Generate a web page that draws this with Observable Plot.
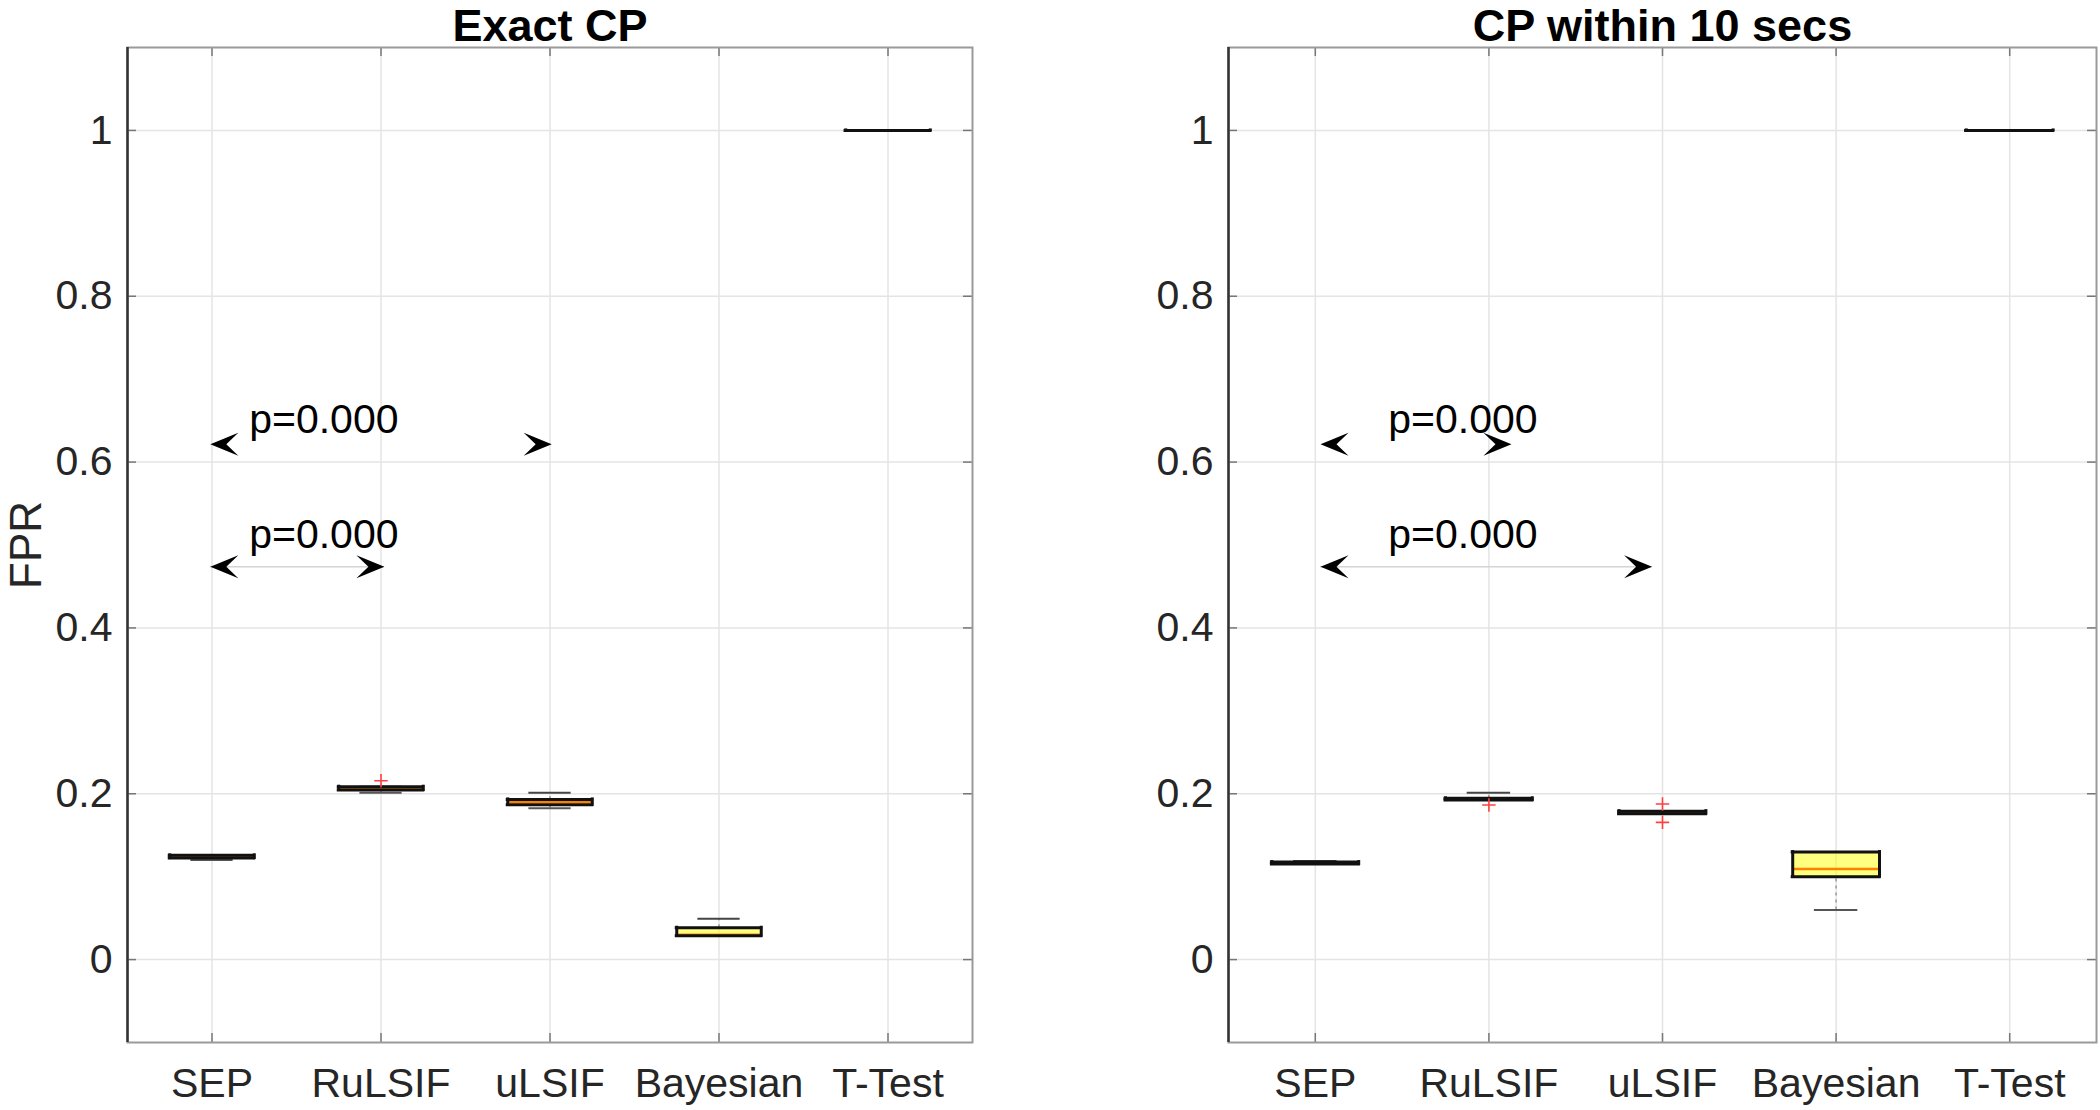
<!DOCTYPE html>
<html>
<head>
<meta charset="utf-8">
<script src="https://cdn.jsdelivr.net/npm/d3@7"></script>
<script src="https://cdn.jsdelivr.net/npm/@observablehq/plot@0.6"></script>
<style>
  html, body { margin: 0; padding: 0; background: #fff; }
  #wrap { position: relative; width: 2100px; height: 1110px; overflow: hidden; background: #fff; }
  #left, #right { position: absolute; top: 0; }
  #left { left: 0; }
  #right { left: 1100px; }
</style>
</head>
<body>
<div id="wrap"><div id="left"></div><div id="right"></div></div>
<script>
// ---------- data ----------
const methods = ["SEP", "RuLSIF", "uLSIF", "Bayesian", "T-Test"];
const yTicks = [0, 0.2, 0.4, 0.6, 0.8, 1];
const yTickLabels = ["0", "0.2", "0.4", "0.6", "0.8", "1"];
const titles = ["Exact CP", "CP within 10 secs"];
const yLabel = "FPR";

// Exact CP box statistics
const exactLo  = [0.1200, 0.2012, 0.1824, 0.0287, 1];
const exactQ1  = [0.1224, 0.2045, 0.1867, 0.0287, 1];
const exactMed = [0.1240, 0.2065, 0.1900, 0.0300, 1];
const exactQ3  = [0.1257, 0.2085, 0.1932, 0.0384, 1];
const exactHi  = [0.1257, 0.2085, 0.2012, 0.0492, 1];
const exactOutlierMethod = ["RuLSIF"];
const exactOutlierValue  = [0.2157];

// CP within 10 secs box statistics
const withinLo  = [0.1152, 0.1924, 0.1759, 0.0597, 1];
const withinQ1  = [0.1152, 0.1924, 0.1759, 0.0999, 1];
const withinMed = [0.1165, 0.1935, 0.1775, 0.1092, 1];
const withinQ3  = [0.1176, 0.1945, 0.1790, 0.1297, 1];
const withinHi  = [0.1190, 0.2012, 0.1790, 0.1297, 1];
const withinOutlierMethod = ["RuLSIF", "uLSIF", "uLSIF"];
const withinOutlierValue  = [0.1864, 0.1876, 0.1655];

// significance brackets (category units / FPR units)
const pLabels = ["p=0.000", "p=0.000"];
const bracketLevel = [0.6215, 0.4738];
const bracketTextLevel = [0.651, 0.512];
const bracketHasLine = [false, true];
const exactBracketFrom = [0.99, 0.99];
const exactBracketTo   = [3.01, 2.02];
const exactTextStart   = [1.22, 1.22];
const withinBracketFrom = [1.03, 1.03];
const withinBracketTo   = [2.13, 2.94];
const withinTextStart   = [1.42, 1.42];

// ---------- drawing ----------
const FONT = "'Liberation Sans', Arial, Helvetica, sans-serif";
const arrowRight = {draw(ctx) { ctx.moveTo(0, 0); ctx.lineTo(-28, -11.5); ctx.lineTo(-16, 0); ctx.lineTo(-28, 11.5); ctx.closePath(); }};
const arrowLeft  = {draw(ctx) { ctx.moveTo(0, 0); ctx.lineTo(28, -11.5); ctx.lineTo(16, 0); ctx.lineTo(28, 11.5); ctx.closePath(); }};

function panel({lo, q1, med, q3, hi, outM, outV, from, to, tstart, title, showYLabel, width, mL, mR}) {
  const height = 1110, mT = 47, mB = 68;
  const areaW = width - mL - mR, areaH = height - mT - mB;
  const rows = methods.map((m, k) => ({i: k + 1, lo: lo[k], q1: q1[k], med: med[k], q3: q3[k], hi: hi[k]}));
  const outs = outM.map((m, k) => ({i: methods.indexOf(m) + 1, v: outV[k]}));
  const br = pLabels.map((t, k) => ({x1: from[k], x2: to[k], y: bracketLevel[k], tx: tstart[k], ty: bracketTextLevel[k], label: t, line: bracketHasLine[k]}));
  const hw = 0.25, cw = 0.125;
  const xTicks = methods.map((m, k) => k + 1);
  return Plot.plot({
    width, height, marginTop: mT, marginBottom: mB, marginLeft: mL, marginRight: mR,
    style: {fontFamily: FONT, color: "#262626", background: "white", overflow: "visible"},
    x: {domain: [0.5, 5.5]},
    y: {domain: [-0.1, 1.1]},
    marks: [
      Plot.gridY(yTicks, {stroke: "#e4e4e4", strokeOpacity: 1, strokeWidth: 1.5}),
      Plot.gridX(xTicks, {stroke: "#e4e4e4", strokeOpacity: 1, strokeWidth: 1.5}),
      Plot.tickY(yTicks, {insetRight: areaW - 9, stroke: "#777", strokeWidth: 1.5}),
      Plot.tickY(yTicks, {insetLeft: areaW - 9, stroke: "#777", strokeWidth: 1.5}),
      Plot.tickX(xTicks, {insetBottom: areaH - 9, stroke: "#777", strokeWidth: 1.5}),
      Plot.tickX(xTicks, {insetTop: areaH - 9, stroke: "#777", strokeWidth: 1.5}),
      Plot.frame({stroke: "#9a9a9a", strokeWidth: 2}),
      Plot.ruleX([0.5], {stroke: "#333", strokeWidth: 2.5}),
      // whiskers
      Plot.ruleX(rows, {x: "i", y1: "q3", y2: "hi", stroke: "#999", strokeWidth: 1.5, strokeDasharray: "3,4"}),
      Plot.ruleX(rows, {x: "i", y1: "lo", y2: "q1", stroke: "#999", strokeWidth: 1.5, strokeDasharray: "3,4"}),
      Plot.ruleY(rows, {y: "hi", x1: d => d.i - cw, x2: d => d.i + cw, stroke: "#444", strokeWidth: 2}),
      Plot.ruleY(rows, {y: "lo", x1: d => d.i - cw, x2: d => d.i + cw, stroke: "#555", strokeWidth: 2}),
      // median, semi-transparent fill, outline
      Plot.ruleY(rows, {y: "med", x1: d => d.i - hw, x2: d => d.i + hw, stroke: "#ff0000", strokeWidth: 2.5}),
      Plot.rect(rows, {x1: d => d.i - hw, x2: d => d.i + hw, y1: "q1", y2: "q3", fill: "#ffff00", fillOpacity: 0.5}),
      Plot.ruleY(rows, {y: "q1", x1: d => d.i - hw, x2: d => d.i + hw, stroke: "#111", strokeWidth: 3, strokeLinecap: "square"}),
      Plot.ruleY(rows, {y: "q3", x1: d => d.i - hw, x2: d => d.i + hw, stroke: "#111", strokeWidth: 3, strokeLinecap: "square"}),
      Plot.ruleX(rows, {x: d => d.i - hw, y1: "q1", y2: "q3", stroke: "#111", strokeWidth: 3, strokeLinecap: "square"}),
      Plot.ruleX(rows, {x: d => d.i + hw, y1: "q1", y2: "q3", stroke: "#111", strokeWidth: 3, strokeLinecap: "square"}),
      // outliers
      Plot.dot(outs, {x: "i", y: "v", symbol: "plus", r: 4.4, stroke: "#ff4040", strokeWidth: 1.6, fill: "none"}),
      // significance brackets
      Plot.ruleY(br.filter(d => d.line), {y: "y", x1: "x1", x2: "x2", stroke: "#d4d4d4", strokeWidth: 1.5}),
      Plot.dot(br, {x: "x1", y: "y", symbol: arrowLeft, r: 8, fill: "#000", stroke: "none"}),
      Plot.dot(br, {x: "x2", y: "y", symbol: arrowRight, r: 8, fill: "#000", stroke: "none"}),
      Plot.text(br, {x: "tx", y: "ty", text: "label", textAnchor: "start", lineAnchor: "middle", fontSize: 41, fill: "#000"}),
      // axes
      Plot.axisX({ticks: xTicks, tickFormat: i => methods[i - 1], tickSize: 0, tickPadding: 25, fontSize: 41, label: null}),
      Plot.axisY({ticks: yTicks, tickFormat: v => yTickLabels[yTicks.indexOf(v)], tickSize: 0, tickPadding: 15, fontSize: 41, label: null}),
      // title
      Plot.text([{x: 3, t: title}], {x: "x", text: "t", frameAnchor: "top", lineAnchor: "middle", textAnchor: "middle", dy: -20.5, fontSize: 45, fontWeight: "bold", fill: "#000"}),
      ...(showYLabel ? [Plot.text([{t: yLabel}], {text: "t", frameAnchor: "left", textAnchor: "middle", lineAnchor: "middle", dx: -101, rotate: -90, fontSize: 44, fill: "#262626"})] : [])
    ]
  });
}

document.getElementById("left").append(panel({
  lo: exactLo, q1: exactQ1, med: exactMed, q3: exactQ3, hi: exactHi,
  outM: exactOutlierMethod, outV: exactOutlierValue,
  from: exactBracketFrom, to: exactBracketTo, tstart: exactTextStart,
  title: titles[0], showYLabel: true, width: 1000, mL: 127, mR: 28
}));
document.getElementById("right").append(panel({
  lo: withinLo, q1: withinQ1, med: withinMed, q3: withinQ3, hi: withinHi,
  outM: withinOutlierMethod, outV: withinOutlierValue,
  from: withinBracketFrom, to: withinBracketTo, tstart: withinTextStart,
  title: titles[1], showYLabel: false, width: 1000, mL: 128, mR: 4
}));
</script>
</body>
</html>
